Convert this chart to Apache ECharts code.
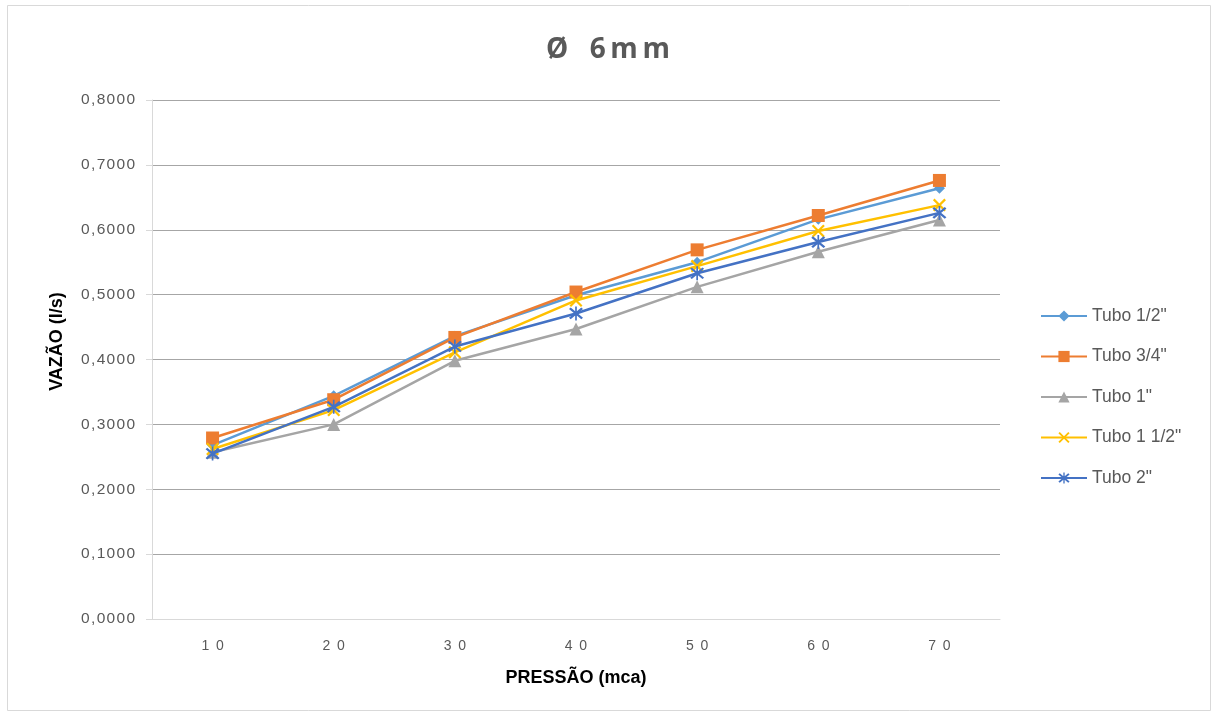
<!DOCTYPE html>
<html>
<head>
<meta charset="utf-8">
<script src="https://cdn.jsdelivr.net/npm/echarts@6/dist/echarts.min.js"></script>
<style>html,body{margin:0;padding:0;background:#fff;}#c{width:1216px;height:716px;}</style>
</head>
<body>
<div id="c"></div>
<script>
const categories = ['10', '20', '30', '40', '50', '60', '70'];
const tubo12 = [0.268, 0.344, 0.436, 0.499, 0.550, 0.616, 0.664];
const tubo34 = [0.279, 0.338, 0.434, 0.504, 0.569, 0.622, 0.676];
const tubo1 = [0.257, 0.300, 0.398, 0.447, 0.512, 0.566, 0.615];
const tubo112 = [0.262, 0.322, 0.411, 0.491, 0.544, 0.598, 0.638];
const tubo2 = [0.255, 0.327, 0.420, 0.471, 0.533, 0.581, 0.626];
const seriesNames = ['Tubo 1/2"', 'Tubo 3/4"', 'Tubo 1"', 'Tubo 1 1/2"', 'Tubo 2"'];

const xPath = 'path://M0,1.2 L1.2,0 L10,8.8 L8.8,10 Z M8.8,0 L10,1.2 L1.2,10 L0,8.8 Z';
const starPath = 'path://M0,1.2 L1.2,0 L10,8.8 L8.8,10 Z M8.8,0 L10,1.2 L1.2,10 L0,8.8 Z M4.4,-1 L5.6,-1 L5.6,11 L4.4,11 Z';

const specs = [
  {data: tubo12, color: '#5B9BD5', symbol: 'diamond', size: 11},
  {data: tubo34, color: '#ED7D31', symbol: 'rect', size: 13},
  {data: tubo1, color: '#A5A5A5', symbol: 'triangle', size: 13},
  {data: tubo112, color: '#FFC000', symbol: xPath, size: 13},
  {data: tubo2, color: '#4472C4', symbol: starPath, size: 14}
];

const chart = echarts.init(document.getElementById('c'));
chart.setOption({
  animation: false,
  backgroundColor: '#fff',
  title: {
    text: 'Ø\u2002 6\u2009m\u2009m',
    left: 'center', top: 31,
    textStyle: {fontFamily: 'Open Sans', fontSize: 28, fontWeight: 'bold', color: '#595959'}
  },
  graphic: [{
    type: 'rect', shape: {x: 7.5, y: 5.5, width: 1203, height: 705},
    style: {fill: 'none', stroke: '#d9d9d9', lineWidth: 1}, silent: true, z: -1
  }],
  legend: {
    orient: 'vertical', left: 1035, top: 302,
    itemWidth: 46, itemHeight: 14, itemGap: 22.5,
    textStyle: {fontFamily: 'Liberation Sans', fontSize: 17.5, color: '#595959'},
    data: seriesNames
  },
  grid: {left: 152, right: 216, top: 100, bottom: 97},
  xAxis: {
    type: 'category', data: categories, boundaryGap: true,
    name: 'PRESSÃO (mca)', nameLocation: 'middle', nameGap: 50,
    nameTextStyle: {fontFamily: 'Liberation Sans', fontSize: 18, fontWeight: 'bold', color: '#000'},
    axisLine: {lineStyle: {color: '#d9d9d9', width: 1}},
    axisTick: {show: false},
    axisLabel: {margin: 20, fontFamily: 'Liberation Sans', fontSize: 14, color: '#595959',
      formatter: v => v.split('').join('\u2009 ')}
  },
  yAxis: {
    type: 'value', min: 0, max: 0.8, interval: 0.1,
    name: 'VAZÃO (l/s)', nameLocation: 'middle', nameGap: 86,
    nameTextStyle: {fontFamily: 'Liberation Sans', fontSize: 18, fontWeight: 'bold', color: '#000', padding: [0, 0, 0, 36]},
    axisLine: {show: true, lineStyle: {color: '#d9d9d9'}},
    axisTick: {show: true, length: 6, inside: false, lineStyle: {color: '#d9d9d9'}},
    axisLabel: {margin: 17, fontFamily: 'Liberation Sans', fontSize: 15.5, color: '#595959',
      formatter: v => v.toFixed(4).replace('.', ',').split('').join('\u200a')},
    splitLine: {lineStyle: {color: ['#d9d9d9', '#a6a6a6', '#a6a6a6', '#a6a6a6', '#a6a6a6', '#a6a6a6', '#a6a6a6', '#a6a6a6', '#a6a6a6'], width: 1}}
  },
  series: specs.map((s, i) => ({
    name: seriesNames[i], type: 'line', data: s.data,
    symbol: s.symbol, symbolSize: s.size, showSymbol: true,
    lineStyle: {color: s.color, width: 2.5},
    itemStyle: {color: s.color},
    z: 2 + i
  }))
});
</script>
</body>
</html>
